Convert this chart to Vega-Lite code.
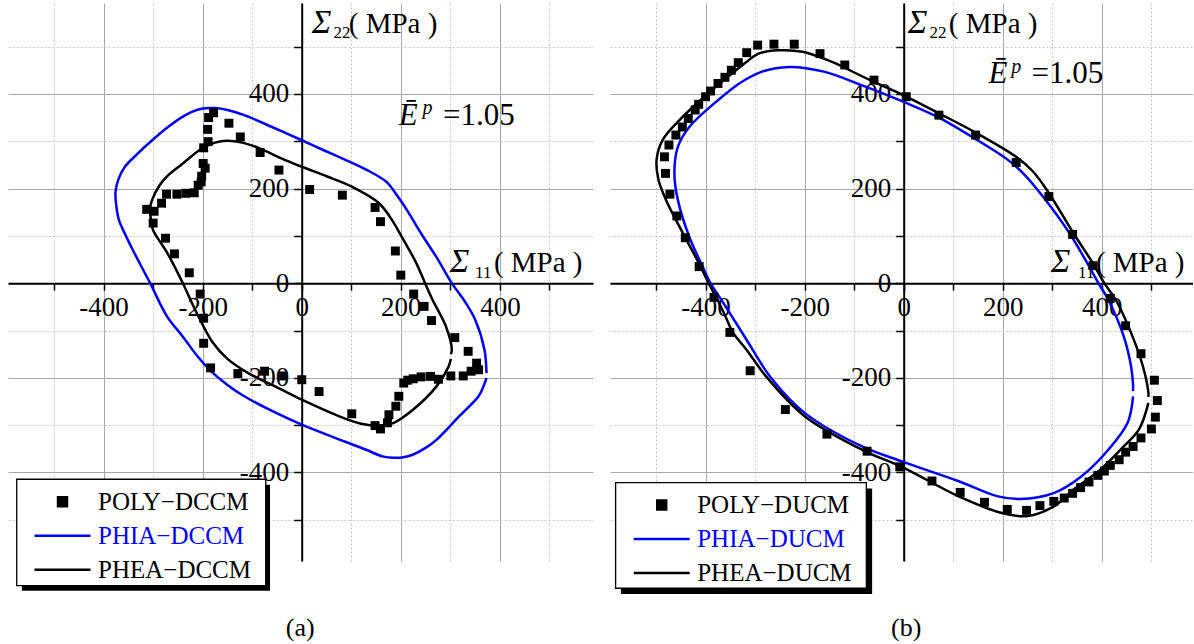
{
  "$schema": "https://vega.github.io/schema/vega-lite/v6.json",
  "background": "white",
  "padding": {"left": 8, "top": 3, "right": 0, "bottom": 0},
  "spacing": 17,
  "config": {
    "view": {"stroke": null},
    "font": "Liberation Serif",
    "text": {"font": "Liberation Serif", "color": "black"}
  },
  "resolve": {"scale": {"color": "independent", "x": "independent", "y": "independent"}, "legend": {"color": "independent"}},
  "datasets": {
    "al": [
      {"s": "PHIA−DCCM", "i": 1, "x": 373, "y": -190},
      {"s": "PHIA−DCCM", "i": 2, "x": 369, "y": -141},
      {"s": "PHIA−DCCM", "i": 3, "x": 350, "y": -77},
      {"s": "PHIA−DCCM", "i": 4, "x": 330, "y": -40},
      {"s": "PHIA−DCCM", "i": 5, "x": 303, "y": 0},
      {"s": "PHIA−DCCM", "i": 6, "x": 272, "y": 55},
      {"s": "PHIA−DCCM", "i": 7, "x": 241, "y": 105},
      {"s": "PHIA−DCCM", "i": 8, "x": 215, "y": 150},
      {"s": "PHIA−DCCM", "i": 9, "x": 194, "y": 183},
      {"s": "PHIA−DCCM", "i": 10, "x": 171, "y": 214},
      {"s": "PHIA−DCCM", "i": 11, "x": 130, "y": 240},
      {"s": "PHIA−DCCM", "i": 12, "x": 85, "y": 262},
      {"s": "PHIA−DCCM", "i": 13, "x": 40, "y": 283},
      {"s": "PHIA−DCCM", "i": 14, "x": 0, "y": 302},
      {"s": "PHIA−DCCM", "i": 15, "x": -60, "y": 330},
      {"s": "PHIA−DCCM", "i": 16, "x": -116, "y": 355},
      {"s": "PHIA−DCCM", "i": 17, "x": -150, "y": 366},
      {"s": "PHIA−DCCM", "i": 18, "x": -175, "y": 370},
      {"s": "PHIA−DCCM", "i": 19, "x": -200, "y": 369},
      {"s": "PHIA−DCCM", "i": 20, "x": -222, "y": 362},
      {"s": "PHIA−DCCM", "i": 21, "x": -240, "y": 352},
      {"s": "PHIA−DCCM", "i": 22, "x": -270, "y": 330},
      {"s": "PHIA−DCCM", "i": 23, "x": -302, "y": 302},
      {"s": "PHIA−DCCM", "i": 24, "x": -335, "y": 270},
      {"s": "PHIA−DCCM", "i": 25, "x": -357, "y": 246},
      {"s": "PHIA−DCCM", "i": 26, "x": -370, "y": 220},
      {"s": "PHIA−DCCM", "i": 27, "x": -376, "y": 192},
      {"s": "PHIA−DCCM", "i": 28, "x": -374, "y": 160},
      {"s": "PHIA−DCCM", "i": 29, "x": -369, "y": 133},
      {"s": "PHIA−DCCM", "i": 30, "x": -355, "y": 100},
      {"s": "PHIA−DCCM", "i": 31, "x": -341, "y": 70},
      {"s": "PHIA−DCCM", "i": 32, "x": -306, "y": 0},
      {"s": "PHIA−DCCM", "i": 33, "x": -272, "y": -70},
      {"s": "PHIA−DCCM", "i": 34, "x": -240, "y": -113},
      {"s": "PHIA−DCCM", "i": 35, "x": -210, "y": -155},
      {"s": "PHIA−DCCM", "i": 36, "x": -186, "y": -183},
      {"s": "PHIA−DCCM", "i": 37, "x": -150, "y": -215},
      {"s": "PHIA−DCCM", "i": 38, "x": -116, "y": -239},
      {"s": "PHIA−DCCM", "i": 39, "x": -60, "y": -270},
      {"s": "PHIA−DCCM", "i": 40, "x": 0, "y": -299},
      {"s": "PHIA−DCCM", "i": 41, "x": 85, "y": -334},
      {"s": "PHIA−DCCM", "i": 42, "x": 130, "y": -352},
      {"s": "PHIA−DCCM", "i": 43, "x": 163, "y": -366},
      {"s": "PHIA−DCCM", "i": 44, "x": 186, "y": -369},
      {"s": "PHIA−DCCM", "i": 45, "x": 205, "y": -368},
      {"s": "PHIA−DCCM", "i": 46, "x": 225, "y": -362},
      {"s": "PHIA−DCCM", "i": 47, "x": 250, "y": -348},
      {"s": "PHIA−DCCM", "i": 48, "x": 272, "y": -331},
      {"s": "PHIA−DCCM", "i": 49, "x": 318, "y": -281},
      {"s": "PHIA−DCCM", "i": 50, "x": 357, "y": -239},
      {"s": "PHIA−DCCM", "i": 51, "x": 368, "y": -215},
      {"s": "PHIA−DCCM", "i": 52, "x": 373, "y": -200},
      {"s": "PHEA−DCCM", "i": 1, "x": 301, "y": -150},
      {"s": "PHEA−DCCM", "i": 2, "x": 303, "y": -141},
      {"s": "PHEA−DCCM", "i": 3, "x": 291, "y": -91},
      {"s": "PHEA−DCCM", "i": 4, "x": 264, "y": -35},
      {"s": "PHEA−DCCM", "i": 5, "x": 249, "y": 0},
      {"s": "PHEA−DCCM", "i": 6, "x": 230, "y": 45},
      {"s": "PHEA−DCCM", "i": 7, "x": 202, "y": 98},
      {"s": "PHEA−DCCM", "i": 8, "x": 180, "y": 137},
      {"s": "PHEA−DCCM", "i": 9, "x": 156, "y": 169},
      {"s": "PHEA−DCCM", "i": 10, "x": 101, "y": 204},
      {"s": "PHEA−DCCM", "i": 11, "x": 50, "y": 226},
      {"s": "PHEA−DCCM", "i": 12, "x": 0, "y": 246},
      {"s": "PHEA−DCCM", "i": 13, "x": -40, "y": 263},
      {"s": "PHEA−DCCM", "i": 14, "x": -85, "y": 285},
      {"s": "PHEA−DCCM", "i": 15, "x": -120, "y": 297},
      {"s": "PHEA−DCCM", "i": 16, "x": -151, "y": 301},
      {"s": "PHEA−DCCM", "i": 17, "x": -175, "y": 297},
      {"s": "PHEA−DCCM", "i": 18, "x": -201, "y": 285},
      {"s": "PHEA−DCCM", "i": 19, "x": -240, "y": 253},
      {"s": "PHEA−DCCM", "i": 20, "x": -270, "y": 228},
      {"s": "PHEA−DCCM", "i": 21, "x": -287, "y": 207},
      {"s": "PHEA−DCCM", "i": 22, "x": -302, "y": 176},
      {"s": "PHEA−DCCM", "i": 23, "x": -306, "y": 160},
      {"s": "PHEA−DCCM", "i": 24, "x": -304, "y": 130},
      {"s": "PHEA−DCCM", "i": 25, "x": -300, "y": 112},
      {"s": "PHEA−DCCM", "i": 26, "x": -271, "y": 63},
      {"s": "PHEA−DCCM", "i": 27, "x": -240, "y": 0},
      {"s": "PHEA−DCCM", "i": 28, "x": -212, "y": -63},
      {"s": "PHEA−DCCM", "i": 29, "x": -180, "y": -125},
      {"s": "PHEA−DCCM", "i": 30, "x": -150, "y": -160},
      {"s": "PHEA−DCCM", "i": 31, "x": -108, "y": -190},
      {"s": "PHEA−DCCM", "i": 32, "x": -50, "y": -220},
      {"s": "PHEA−DCCM", "i": 33, "x": 0, "y": -246},
      {"s": "PHEA−DCCM", "i": 34, "x": 85, "y": -285},
      {"s": "PHEA−DCCM", "i": 35, "x": 120, "y": -297},
      {"s": "PHEA−DCCM", "i": 36, "x": 148, "y": -301},
      {"s": "PHEA−DCCM", "i": 37, "x": 170, "y": -299},
      {"s": "PHEA−DCCM", "i": 38, "x": 186, "y": -295},
      {"s": "PHEA−DCCM", "i": 39, "x": 225, "y": -267},
      {"s": "PHEA−DCCM", "i": 40, "x": 272, "y": -218},
      {"s": "PHEA−DCCM", "i": 41, "x": 297, "y": -175},
      {"s": "PHEA−DCCM", "i": 42, "x": 301, "y": -160}
    ],
    "ap": [
      {"s": "POLY−DCCM", "x": -178, "y": 360},
      {"s": "POLY−DCCM", "x": -188, "y": 350},
      {"s": "POLY−DCCM", "x": -190, "y": 325},
      {"s": "POLY−DCCM", "x": -189, "y": 299},
      {"s": "POLY−DCCM", "x": -198, "y": 286},
      {"s": "POLY−DCCM", "x": -147, "y": 338},
      {"s": "POLY−DCCM", "x": -124, "y": 309},
      {"s": "POLY−DCCM", "x": -84, "y": 276},
      {"s": "POLY−DCCM", "x": -46, "y": 239},
      {"s": "POLY−DCCM", "x": 16, "y": 198},
      {"s": "POLY−DCCM", "x": 82, "y": 186},
      {"s": "POLY−DCCM", "x": 148, "y": 160},
      {"s": "POLY−DCCM", "x": 159, "y": 130},
      {"s": "POLY−DCCM", "x": 189, "y": 68},
      {"s": "POLY−DCCM", "x": 200, "y": 17},
      {"s": "POLY−DCCM", "x": 226, "y": -23},
      {"s": "POLY−DCCM", "x": 247, "y": -49},
      {"s": "POLY−DCCM", "x": -199, "y": 253},
      {"s": "POLY−DCCM", "x": -195, "y": 243},
      {"s": "POLY−DCCM", "x": -202, "y": 226},
      {"s": "POLY−DCCM", "x": -203, "y": 214},
      {"s": "POLY−DCCM", "x": -209, "y": 207},
      {"s": "POLY−DCCM", "x": -217, "y": 191},
      {"s": "POLY−DCCM", "x": -234, "y": 190},
      {"s": "POLY−DCCM", "x": -252, "y": 188},
      {"s": "POLY−DCCM", "x": -273, "y": 188},
      {"s": "POLY−DCCM", "x": -283, "y": 169},
      {"s": "POLY−DCCM", "x": -298, "y": 152},
      {"s": "POLY−DCCM", "x": -313, "y": 156},
      {"s": "POLY−DCCM", "x": -300, "y": 127},
      {"s": "POLY−DCCM", "x": -275, "y": 95},
      {"s": "POLY−DCCM", "x": -257, "y": 62},
      {"s": "POLY−DCCM", "x": -227, "y": 22},
      {"s": "POLY−DCCM", "x": -205, "y": -23},
      {"s": "POLY−DCCM", "x": -198, "y": -74},
      {"s": "POLY−DCCM", "x": -198, "y": -127},
      {"s": "POLY−DCCM", "x": -184, "y": -179},
      {"s": "POLY−DCCM", "x": -129, "y": -191},
      {"s": "POLY−DCCM", "x": -75, "y": -186},
      {"s": "POLY−DCCM", "x": -38, "y": -196},
      {"s": "POLY−DCCM", "x": 0, "y": -204},
      {"s": "POLY−DCCM", "x": 35, "y": -229},
      {"s": "POLY−DCCM", "x": 101, "y": -276},
      {"s": "POLY−DCCM", "x": 148, "y": -301},
      {"s": "POLY−DCCM", "x": 159, "y": -308},
      {"s": "POLY−DCCM", "x": 173, "y": -295},
      {"s": "POLY−DCCM", "x": 176, "y": -278},
      {"s": "POLY−DCCM", "x": 190, "y": -260},
      {"s": "POLY−DCCM", "x": 196, "y": -239},
      {"s": "POLY−DCCM", "x": 206, "y": -211},
      {"s": "POLY−DCCM", "x": 214, "y": -205},
      {"s": "POLY−DCCM", "x": 225, "y": -202},
      {"s": "POLY−DCCM", "x": 241, "y": -198},
      {"s": "POLY−DCCM", "x": 260, "y": -197},
      {"s": "POLY−DCCM", "x": 276, "y": -203},
      {"s": "POLY−DCCM", "x": 301, "y": -196},
      {"s": "POLY−DCCM", "x": 326, "y": -196},
      {"s": "POLY−DCCM", "x": 342, "y": -186},
      {"s": "POLY−DCCM", "x": 357, "y": -183},
      {"s": "POLY−DCCM", "x": 353, "y": -169},
      {"s": "POLY−DCCM", "x": 336, "y": -144},
      {"s": "POLY−DCCM", "x": 309, "y": -115},
      {"s": "POLY−DCCM", "x": 262, "y": -79}
    ],
    "bl": [
      {"s": "PHIA−DUCM", "i": 1, "x": 463, "y": -228},
      {"s": "PHIA−DUCM", "i": 2, "x": 463, "y": -215},
      {"s": "PHIA−DUCM", "i": 3, "x": 459, "y": -176},
      {"s": "PHIA−DUCM", "i": 4, "x": 444, "y": -112},
      {"s": "PHIA−DUCM", "i": 5, "x": 413, "y": -35},
      {"s": "PHIA−DUCM", "i": 6, "x": 393, "y": 0},
      {"s": "PHIA−DUCM", "i": 7, "x": 382, "y": 21},
      {"s": "PHIA−DUCM", "i": 8, "x": 335, "y": 105},
      {"s": "PHIA−DUCM", "i": 9, "x": 281, "y": 183},
      {"s": "PHIA−DUCM", "i": 10, "x": 245, "y": 228},
      {"s": "PHIA−DUCM", "i": 11, "x": 211, "y": 260},
      {"s": "PHIA−DUCM", "i": 12, "x": 149, "y": 302},
      {"s": "PHIA−DUCM", "i": 13, "x": 71, "y": 350},
      {"s": "PHIA−DUCM", "i": 14, "x": 0, "y": 383},
      {"s": "PHIA−DUCM", "i": 15, "x": -84, "y": 418},
      {"s": "PHIA−DUCM", "i": 16, "x": -161, "y": 447},
      {"s": "PHIA−DUCM", "i": 17, "x": -231, "y": 457},
      {"s": "PHIA−DUCM", "i": 18, "x": -286, "y": 447},
      {"s": "PHIA−DUCM", "i": 19, "x": -332, "y": 422},
      {"s": "PHIA−DUCM", "i": 20, "x": -379, "y": 383},
      {"s": "PHIA−DUCM", "i": 21, "x": -433, "y": 330},
      {"s": "PHIA−DUCM", "i": 22, "x": -456, "y": 288},
      {"s": "PHIA−DUCM", "i": 23, "x": -463, "y": 232},
      {"s": "PHIA−DUCM", "i": 24, "x": -456, "y": 176},
      {"s": "PHIA−DUCM", "i": 25, "x": -433, "y": 98},
      {"s": "PHIA−DUCM", "i": 26, "x": -406, "y": 35},
      {"s": "PHIA−DUCM", "i": 27, "x": -390, "y": 0},
      {"s": "PHIA−DUCM", "i": 28, "x": -364, "y": -42},
      {"s": "PHIA−DUCM", "i": 29, "x": -347, "y": -70},
      {"s": "PHIA−DUCM", "i": 30, "x": -317, "y": -120},
      {"s": "PHIA−DUCM", "i": 31, "x": -270, "y": -197},
      {"s": "PHIA−DUCM", "i": 32, "x": -200, "y": -274},
      {"s": "PHIA−DUCM", "i": 33, "x": -84, "y": -345},
      {"s": "PHIA−DUCM", "i": 34, "x": 0, "y": -378},
      {"s": "PHIA−DUCM", "i": 35, "x": 110, "y": -418},
      {"s": "PHIA−DUCM", "i": 36, "x": 188, "y": -450},
      {"s": "PHIA−DUCM", "i": 37, "x": 234, "y": -456},
      {"s": "PHIA−DUCM", "i": 38, "x": 304, "y": -443},
      {"s": "PHIA−DUCM", "i": 39, "x": 359, "y": -408},
      {"s": "PHIA−DUCM", "i": 40, "x": 413, "y": -352},
      {"s": "PHIA−DUCM", "i": 41, "x": 452, "y": -295},
      {"s": "PHIA−DUCM", "i": 42, "x": 463, "y": -239},
      {"s": "PHEA−DUCM", "i": 1, "x": 494, "y": -240},
      {"s": "PHEA−DUCM", "i": 2, "x": 494, "y": -232},
      {"s": "PHEA−DUCM", "i": 3, "x": 483, "y": -176},
      {"s": "PHEA−DUCM", "i": 4, "x": 459, "y": -105},
      {"s": "PHEA−DUCM", "i": 5, "x": 428, "y": -35},
      {"s": "PHEA−DUCM", "i": 6, "x": 405, "y": 0},
      {"s": "PHEA−DUCM", "i": 7, "x": 382, "y": 42},
      {"s": "PHEA−DUCM", "i": 8, "x": 343, "y": 105},
      {"s": "PHEA−DUCM", "i": 9, "x": 289, "y": 197},
      {"s": "PHEA−DUCM", "i": 10, "x": 260, "y": 237},
      {"s": "PHEA−DUCM", "i": 11, "x": 227, "y": 267},
      {"s": "PHEA−DUCM", "i": 12, "x": 149, "y": 316},
      {"s": "PHEA−DUCM", "i": 13, "x": 71, "y": 359},
      {"s": "PHEA−DUCM", "i": 14, "x": 0, "y": 397},
      {"s": "PHEA−DUCM", "i": 15, "x": -68, "y": 429},
      {"s": "PHEA−DUCM", "i": 16, "x": -146, "y": 468},
      {"s": "PHEA−DUCM", "i": 17, "x": -204, "y": 489},
      {"s": "PHEA−DUCM", "i": 18, "x": -254, "y": 492},
      {"s": "PHEA−DUCM", "i": 19, "x": -293, "y": 485},
      {"s": "PHEA−DUCM", "i": 20, "x": -317, "y": 468},
      {"s": "PHEA−DUCM", "i": 21, "x": -363, "y": 429},
      {"s": "PHEA−DUCM", "i": 22, "x": -410, "y": 387},
      {"s": "PHEA−DUCM", "i": 23, "x": -456, "y": 341},
      {"s": "PHEA−DUCM", "i": 24, "x": -487, "y": 302},
      {"s": "PHEA−DUCM", "i": 25, "x": -499, "y": 260},
      {"s": "PHEA−DUCM", "i": 26, "x": -495, "y": 218},
      {"s": "PHEA−DUCM", "i": 27, "x": -480, "y": 176},
      {"s": "PHEA−DUCM", "i": 28, "x": -449, "y": 112},
      {"s": "PHEA−DUCM", "i": 29, "x": -410, "y": 35},
      {"s": "PHEA−DUCM", "i": 30, "x": -394, "y": 0},
      {"s": "PHEA−DUCM", "i": 31, "x": -376, "y": -35},
      {"s": "PHEA−DUCM", "i": 32, "x": -360, "y": -70},
      {"s": "PHEA−DUCM", "i": 33, "x": -345, "y": -104},
      {"s": "PHEA−DUCM", "i": 34, "x": -317, "y": -141},
      {"s": "PHEA−DUCM", "i": 35, "x": -278, "y": -197},
      {"s": "PHEA−DUCM", "i": 36, "x": -200, "y": -281},
      {"s": "PHEA−DUCM", "i": 37, "x": -84, "y": -352},
      {"s": "PHEA−DUCM", "i": 38, "x": 0, "y": -390},
      {"s": "PHEA−DUCM", "i": 39, "x": 110, "y": -450},
      {"s": "PHEA−DUCM", "i": 40, "x": 196, "y": -485},
      {"s": "PHEA−DUCM", "i": 41, "x": 250, "y": -492},
      {"s": "PHEA−DUCM", "i": 42, "x": 304, "y": -471},
      {"s": "PHEA−DUCM", "i": 43, "x": 343, "y": -436},
      {"s": "PHEA−DUCM", "i": 44, "x": 397, "y": -394},
      {"s": "PHEA−DUCM", "i": 45, "x": 444, "y": -345},
      {"s": "PHEA−DUCM", "i": 46, "x": 475, "y": -309},
      {"s": "PHEA−DUCM", "i": 47, "x": 494, "y": -253}
    ],
    "bp": [
      {"s": "POLY−DUCM", "x": -295, "y": 503},
      {"s": "POLY−DUCM", "x": -262, "y": 505},
      {"s": "POLY−DUCM", "x": -221, "y": 505},
      {"s": "POLY−DUCM", "x": -317, "y": 487},
      {"s": "POLY−DUCM", "x": -334, "y": 466},
      {"s": "POLY−DUCM", "x": -348, "y": 450},
      {"s": "POLY−DUCM", "x": -361, "y": 435},
      {"s": "POLY−DUCM", "x": -375, "y": 422},
      {"s": "POLY−DUCM", "x": -390, "y": 406},
      {"s": "POLY−DUCM", "x": -400, "y": 394},
      {"s": "POLY−DUCM", "x": -414, "y": 378},
      {"s": "POLY−DUCM", "x": -421, "y": 366},
      {"s": "POLY−DUCM", "x": -435, "y": 348},
      {"s": "POLY−DUCM", "x": -447, "y": 330},
      {"s": "POLY−DUCM", "x": -460, "y": 313},
      {"s": "POLY−DUCM", "x": -474, "y": 292},
      {"s": "POLY−DUCM", "x": -483, "y": 267},
      {"s": "POLY−DUCM", "x": -481, "y": 232},
      {"s": "POLY−DUCM", "x": -472, "y": 188},
      {"s": "POLY−DUCM", "x": -458, "y": 142},
      {"s": "POLY−DUCM", "x": -441, "y": 96},
      {"s": "POLY−DUCM", "x": -413, "y": 35},
      {"s": "POLY−DUCM", "x": -383, "y": -30},
      {"s": "POLY−DUCM", "x": -169, "y": 485},
      {"s": "POLY−DUCM", "x": -119, "y": 461},
      {"s": "POLY−DUCM", "x": -60, "y": 429},
      {"s": "POLY−DUCM", "x": 5, "y": 394},
      {"s": "POLY−DUCM", "x": 71, "y": 355},
      {"s": "POLY−DUCM", "x": 145, "y": 313},
      {"s": "POLY−DUCM", "x": 227, "y": 255},
      {"s": "POLY−DUCM", "x": 293, "y": 183},
      {"s": "POLY−DUCM", "x": 341, "y": 103},
      {"s": "POLY−DUCM", "x": 382, "y": 37},
      {"s": "POLY−DUCM", "x": 417, "y": -32},
      {"s": "POLY−DUCM", "x": -351, "y": -104},
      {"s": "POLY−DUCM", "x": -310, "y": -185},
      {"s": "POLY−DUCM", "x": -239, "y": -267},
      {"s": "POLY−DUCM", "x": -155, "y": -319},
      {"s": "POLY−DUCM", "x": -74, "y": -355},
      {"s": "POLY−DUCM", "x": -8, "y": -388},
      {"s": "POLY−DUCM", "x": 57, "y": -418},
      {"s": "POLY−DUCM", "x": 114, "y": -442},
      {"s": "POLY−DUCM", "x": 163, "y": -463},
      {"s": "POLY−DUCM", "x": 209, "y": -478},
      {"s": "POLY−DUCM", "x": 248, "y": -480},
      {"s": "POLY−DUCM", "x": 275, "y": -470},
      {"s": "POLY−DUCM", "x": 303, "y": -461},
      {"s": "POLY−DUCM", "x": 324, "y": -454},
      {"s": "POLY−DUCM", "x": 341, "y": -444},
      {"s": "POLY−DUCM", "x": 357, "y": -432},
      {"s": "POLY−DUCM", "x": 374, "y": -420},
      {"s": "POLY−DUCM", "x": 392, "y": -406},
      {"s": "POLY−DUCM", "x": 405, "y": -397},
      {"s": "POLY−DUCM", "x": 417, "y": -385},
      {"s": "POLY−DUCM", "x": 435, "y": -373},
      {"s": "POLY−DUCM", "x": 448, "y": -357},
      {"s": "POLY−DUCM", "x": 463, "y": -345},
      {"s": "POLY−DUCM", "x": 479, "y": -327},
      {"s": "POLY−DUCM", "x": 500, "y": -308},
      {"s": "POLY−DUCM", "x": 508, "y": -283},
      {"s": "POLY−DUCM", "x": 512, "y": -248},
      {"s": "POLY−DUCM", "x": 506, "y": -205},
      {"s": "POLY−DUCM", "x": 479, "y": -149},
      {"s": "POLY−DUCM", "x": 448, "y": -90}
    ]
  },
  "hconcat": [
    {
      "width": 585,
      "height": 558,
      "layer": [
        {"data": {"values": [{}]}, "mark": {"type": "rect", "fill": "black"},
         "encoding": {
           "x": {"datum": -565, "scale": {"domain": [-593, 588], "nice": false, "zero": false},
             "axis": {"orient": "bottom", "offset": -277.8, "values": [-500, -400, -300, -200, -100, 0, 100, 200, 300, 400, 500],
               "grid": true, "gridColor": {"condition": {"test": "datum.value % 200 === 0", "value": "#a8a8a8"}, "value": "#c8c8c8"},
               "gridDash": {"condition": {"test": "datum.value % 200 === 0", "value": []}, "value": [2, 2]}, "gridWidth": 1,
               "domainColor": "black", "domainWidth": 2, "tickColor": "black", "tickWidth": 1.5, "tickSize": 7,
               "labelExpr": "datum.value % 200 === 0 ? '' + datum.value : ''",
               "labelFont": "Liberation Serif", "labelFontSize": 27, "labelColor": "black", "labelPadding": 4,
               "labelOverlap": false, "labelFlush": false, "labelBound": false, "title": null,
               "encode": {"labels": {"update": {"fontSize": {"value": 27}, "font": {"value": "Liberation Serif"}}}}}},
           "x2": {"datum": -64},
           "y": {"datum": -426, "scale": {"domain": [-587, 592], "nice": false, "zero": false},
             "axis": {"orient": "left", "offset": -293.7, "values": [-500, -400, -300, -200, -100, 0, 100, 200, 300, 400, 500],
               "grid": true, "gridColor": {"condition": {"test": "datum.value % 200 === 0", "value": "#a8a8a8"}, "value": "#c8c8c8"},
               "gridDash": {"condition": {"test": "datum.value % 200 === 0", "value": []}, "value": [2, 2]}, "gridWidth": 1,
               "domainColor": "black", "domainWidth": 2, "tickColor": "black", "tickWidth": 1.5, "tickSize": 8,
               "labelExpr": "datum.value % 200 === 0 ? '' + datum.value : ''",
               "labelFont": "Liberation Serif", "labelFontSize": 27, "labelColor": "black", "labelPadding": 5,
               "labelOverlap": false, "labelFlush": false, "labelBound": false, "title": null,
               "encode": {"labels": {"update": {"fontSize": {"value": 27}, "font": {"value": "Liberation Serif"}}}}}},
           "y2": {"datum": -649.7}}},
        {"data": {"values": [{}]}, "mark": {"type": "rect", "fill": "white", "stroke": "black", "strokeWidth": 1.3},
         "encoding": {"x": {"datum": -575.4}, "x2": {"datum": -72.7}, "y": {"datum": -414.3}, "y2": {"datum": -639.1}}},
        {"data": {"values": [{}]}, "mark": {"type": "text", "text": "Σ", "font": "Liberation Serif", "fontStyle": "italic", "fontSize": 33, "align": "left", "baseline": "alphabetic"},
         "encoding": {"x": {"datum": 20}, "y": {"datum": 528.6}}},
        {"data": {"values": [{}]}, "mark": {"type": "text", "text": "22", "font": "Liberation Serif", "fontSize": 17, "align": "left", "baseline": "alphabetic"},
         "encoding": {"x": {"datum": 64}, "y": {"datum": 517}}},
        {"data": {"values": [{}]}, "mark": {"type": "text", "text": "( MPa )", "font": "Liberation Serif", "fontSize": 29, "align": "left", "baseline": "alphabetic"},
         "encoding": {"x": {"datum": 95}, "y": {"datum": 528.6}}},
        {"data": {"values": [{}]}, "mark": {"type": "text", "text": "Σ", "font": "Liberation Serif", "fontStyle": "italic", "fontSize": 33, "align": "left", "baseline": "alphabetic"},
         "encoding": {"x": {"datum": 299}, "y": {"datum": 23.7}}},
        {"data": {"values": [{}]}, "mark": {"type": "text", "text": "11", "font": "Liberation Serif", "fontSize": 17, "align": "left", "baseline": "alphabetic"},
         "encoding": {"x": {"datum": 350}, "y": {"datum": 11}}},
        {"data": {"values": [{}]}, "mark": {"type": "text", "text": "( MPa )", "font": "Liberation Serif", "fontSize": 29, "align": "left", "baseline": "alphabetic"},
         "encoding": {"x": {"datum": 388}, "y": {"datum": 23.7}}},
        {"data": {"values": [{}]}, "mark": {"type": "text", "text": "Ē", "font": "Liberation Serif", "fontStyle": "italic", "fontSize": 31, "align": "left", "baseline": "alphabetic"},
         "encoding": {"x": {"datum": 196}, "y": {"datum": 334}}},
        {"data": {"values": [{}]}, "mark": {"type": "text", "text": "p", "font": "Liberation Serif", "fontStyle": "italic", "fontSize": 20, "align": "left", "baseline": "alphabetic"},
         "encoding": {"x": {"datum": 244}, "y": {"datum": 357}}},
        {"data": {"values": [{}]}, "mark": {"type": "text", "text": "=1.05", "font": "Liberation Serif", "fontSize": 31, "align": "left", "baseline": "alphabetic"},
         "encoding": {"x": {"datum": 285}, "y": {"datum": 334}}},
        {"data": {"values": [{}]}, "mark": {"type": "text", "text": "(a)", "font": "Liberation Serif", "fontSize": 26, "align": "center", "baseline": "middle"},
         "encoding": {"x": {"datum": -3}, "y": {"datum": -728.5}}},
        {"data": {"name": "al"}, "mark": {"type": "line", "strokeWidth": 2.5, "interpolate": "catmull-rom"},
         "encoding": {
           "x": {"field": "x", "type": "quantitative"},
           "y": {"field": "y", "type": "quantitative"},
           "order": {"field": "i", "type": "quantitative"},
           "color": {"field": "s", "type": "nominal",
             "scale": {"domain": ["POLY−DCCM", "PHIA−DCCM", "PHEA−DCCM"], "range": ["black", "#0000ff", "black"]},
             "legend": {"orient": "none", "legendX": 25, "legendY": 481.7, "title": null, "padding": 0,
               "symbolType": "stroke", "symbolSize": 3136, "symbolStrokeWidth": 2.5,
               "clipHeight": 34, "rowPadding": 0, "labelOffset": 6,
               "labelFont": "Liberation Serif", "labelFontSize": 25, "labelLimit": 0, "labelColor": "black",
               "encode": {
                 "symbols": {"update": {
                   "shape": {"signal": "indexof(datum.value, 'POLY') >= 0 ? 'M-0.16,-0.16H0.16V0.16H-0.16Z' : 'stroke'"},
                   "fill": {"signal": "indexof(datum.value, 'POLY') >= 0 ? 'black' : 'transparent'"},
                   "stroke": {"signal": "indexof(datum.value, 'POLY') >= 0 ? 'transparent' : (indexof(datum.value, 'PHIA') >= 0 ? '#0000ff' : 'black')"},
                   "strokeWidth": {"value": 2.5},
                   "opacity": {"value": 1}
                 }},
                 "labels": {"update": {"fill": {"signal": "indexof(datum.value, 'PHIA') >= 0 ? '#0000ff' : 'black'"}}}
               }}
           }
         }},
        {"data": {"name": "ap"}, "mark": {"type": "point", "shape": "square", "filled": true, "size": 80, "opacity": 1},
         "encoding": {
           "x": {"field": "x", "type": "quantitative"},
           "y": {"field": "y", "type": "quantitative"},
           "color": {"field": "s", "type": "nominal"}
         }}
      ]
    },
    {
      "width": 583,
      "height": 558,
      "layer": [
        {"data": {"values": [{}]}, "mark": {"type": "rect", "fill": "black"},
         "encoding": {
           "x": {"datum": -571, "scale": {"domain": [-593, 584], "nice": false, "zero": false},
             "axis": {"orient": "bottom", "offset": -277.8, "values": [-500, -400, -300, -200, -100, 0, 100, 200, 300, 400, 500],
               "grid": true, "gridColor": {"condition": {"test": "datum.value % 200 === 0", "value": "#a8a8a8"}, "value": "#c8c8c8"},
               "gridDash": {"condition": {"test": "datum.value % 200 === 0", "value": []}, "value": [2, 2]}, "gridWidth": 1,
               "domainColor": "black", "domainWidth": 2, "tickColor": "black", "tickWidth": 1.5, "tickSize": 7,
               "labelExpr": "datum.value % 200 === 0 ? '' + datum.value : ''",
               "labelFont": "Liberation Serif", "labelFontSize": 27, "labelColor": "black", "labelPadding": 4,
               "labelOverlap": false, "labelFlush": false, "labelBound": false, "title": null,
               "encode": {"labels": {"update": {"fontSize": {"value": 27}, "font": {"value": "Liberation Serif"}}}}}},
           "x2": {"datum": -63.8},
           "y": {"datum": -434, "scale": {"domain": [-587, 592], "nice": false, "zero": false},
             "axis": {"orient": "left", "offset": -293.7, "values": [-500, -400, -300, -200, -100, 0, 100, 200, 300, 400, 500],
               "grid": true, "gridColor": {"condition": {"test": "datum.value % 200 === 0", "value": "#a8a8a8"}, "value": "#c8c8c8"},
               "gridDash": {"condition": {"test": "datum.value % 200 === 0", "value": []}, "value": [2, 2]}, "gridWidth": 1,
               "domainColor": "black", "domainWidth": 2, "tickColor": "black", "tickWidth": 1.5, "tickSize": 8,
               "labelExpr": "datum.value % 200 === 0 ? '' + datum.value : ''",
               "labelFont": "Liberation Serif", "labelFontSize": 27, "labelColor": "black", "labelPadding": 5,
               "labelOverlap": false, "labelFlush": false, "labelBound": false, "title": null,
               "encode": {"labels": {"update": {"fontSize": {"value": 27}, "font": {"value": "Liberation Serif"}}}}}},
           "y2": {"datum": -656.7}}},
        {"data": {"values": [{}]}, "mark": {"type": "rect", "fill": "white", "stroke": "black", "strokeWidth": 1.3},
         "encoding": {"x": {"datum": -581.7}, "x2": {"datum": -75.5}, "y": {"datum": -421.5}, "y2": {"datum": -644.6}}},
        {"data": {"values": [{}]}, "mark": {"type": "text", "text": "Σ", "font": "Liberation Serif", "fontStyle": "italic", "fontSize": 33, "align": "left", "baseline": "alphabetic"},
         "encoding": {"x": {"datum": 8}, "y": {"datum": 528.6}}},
        {"data": {"values": [{}]}, "mark": {"type": "text", "text": "22", "font": "Liberation Serif", "fontSize": 17, "align": "left", "baseline": "alphabetic"},
         "encoding": {"x": {"datum": 52}, "y": {"datum": 517}}},
        {"data": {"values": [{}]}, "mark": {"type": "text", "text": "( MPa )", "font": "Liberation Serif", "fontSize": 29, "align": "left", "baseline": "alphabetic"},
         "encoding": {"x": {"datum": 91}, "y": {"datum": 528.6}}},
        {"data": {"values": [{}]}, "mark": {"type": "text", "text": "Σ", "font": "Liberation Serif", "fontStyle": "italic", "fontSize": 33, "align": "left", "baseline": "alphabetic"},
         "encoding": {"x": {"datum": 297}, "y": {"datum": 24.3}}},
        {"data": {"values": [{}]}, "mark": {"type": "text", "text": "11", "font": "Liberation Serif", "fontSize": 17, "align": "left", "baseline": "alphabetic"},
         "encoding": {"x": {"datum": 352}, "y": {"datum": 11}}},
        {"data": {"values": [{}]}, "mark": {"type": "text", "text": "( MPa )", "font": "Liberation Serif", "fontSize": 29, "align": "left", "baseline": "alphabetic"},
         "encoding": {"x": {"datum": 388}, "y": {"datum": 24.3}}},
        {"data": {"values": [{}]}, "mark": {"type": "text", "text": "Ē", "font": "Liberation Serif", "fontStyle": "italic", "fontSize": 31, "align": "left", "baseline": "alphabetic"},
         "encoding": {"x": {"datum": 171}, "y": {"datum": 422}}},
        {"data": {"values": [{}]}, "mark": {"type": "text", "text": "p", "font": "Liberation Serif", "fontStyle": "italic", "fontSize": 20, "align": "left", "baseline": "alphabetic"},
         "encoding": {"x": {"datum": 217}, "y": {"datum": 445}}},
        {"data": {"values": [{}]}, "mark": {"type": "text", "text": "=1.05", "font": "Liberation Serif", "fontSize": 31, "align": "left", "baseline": "alphabetic"},
         "encoding": {"x": {"datum": 258}, "y": {"datum": 422}}},
        {"data": {"values": [{}]}, "mark": {"type": "text", "text": "(b)", "font": "Liberation Serif", "fontSize": 26, "align": "center", "baseline": "middle"},
         "encoding": {"x": {"datum": 5}, "y": {"datum": -728.5}}},
        {"data": {"name": "bl"}, "mark": {"type": "line", "strokeWidth": 2.5, "interpolate": "catmull-rom"},
         "encoding": {
           "x": {"field": "x", "type": "quantitative"},
           "y": {"field": "y", "type": "quantitative"},
           "order": {"field": "i", "type": "quantitative"},
           "color": {"field": "s", "type": "nominal",
             "scale": {"domain": ["POLY−DUCM", "PHIA−DUCM", "PHEA−DUCM"], "range": ["black", "#0000ff", "black"]},
             "legend": {"orient": "none", "legendX": 22.2, "legendY": 485, "title": null, "padding": 0,
               "symbolType": "stroke", "symbolSize": 3136, "symbolStrokeWidth": 2.5,
               "clipHeight": 34, "rowPadding": 0, "labelOffset": 6,
               "labelFont": "Liberation Serif", "labelFontSize": 25, "labelLimit": 0, "labelColor": "black",
               "encode": {
                 "symbols": {"update": {
                   "shape": {"signal": "indexof(datum.value, 'POLY') >= 0 ? 'M-0.16,-0.16H0.16V0.16H-0.16Z' : 'stroke'"},
                   "fill": {"signal": "indexof(datum.value, 'POLY') >= 0 ? 'black' : 'transparent'"},
                   "stroke": {"signal": "indexof(datum.value, 'POLY') >= 0 ? 'transparent' : (indexof(datum.value, 'PHIA') >= 0 ? '#0000ff' : 'black')"},
                   "strokeWidth": {"value": 2.5},
                   "opacity": {"value": 1}
                 }},
                 "labels": {"update": {"fill": {"signal": "indexof(datum.value, 'PHIA') >= 0 ? '#0000ff' : 'black'"}}}
               }}
           }
         }},
        {"data": {"name": "bp"}, "mark": {"type": "point", "shape": "square", "filled": true, "size": 80, "opacity": 1},
         "encoding": {
           "x": {"field": "x", "type": "quantitative"},
           "y": {"field": "y", "type": "quantitative"},
           "color": {"field": "s", "type": "nominal"}
         }}
      ]
    }
  ]
}
